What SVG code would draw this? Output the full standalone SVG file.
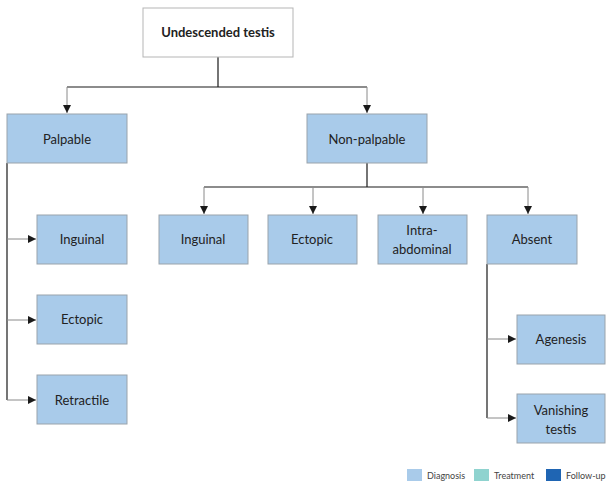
<svg xmlns="http://www.w3.org/2000/svg" width="606" height="482" viewBox="0 0 606 482">
<style>
.box{fill:#a9cbea;stroke:#9aa3ab;stroke-width:1}
.root{fill:#ffffff;stroke:#b5b5b5;stroke-width:1}
.t{font-family:Lato,"Open Sans","Liberation Sans",sans-serif;font-size:13px;fill:#222;text-anchor:middle}
.tb{font-weight:bold}
.main{stroke:#1a1a1a;stroke-width:1.2;fill:none}
.stub{stroke:#8a8a8a;stroke-width:1;fill:none}
.lg{font-family:Lato,"Open Sans","Liberation Sans",sans-serif;font-size:9px;fill:#444}
</style>
<defs>
<marker id="ah" markerWidth="8" markerHeight="8" refX="8" refY="4" orient="auto" markerUnits="userSpaceOnUse">
<path d="M0,0 L8,4 L0,8 Z" fill="#1a1a1a"/>
</marker>
</defs>
<g id="connectors">
<path class="main" d="M218,57 V87 M67,87 H367"/>
<path class="stub" d="M67,87 V113" marker-end="url(#ah)"/>
<path class="stub" d="M367,87 V113" marker-end="url(#ah)"/>
<path class="main" d="M7,163 V400"/>
<path class="stub" d="M7,239 H36" marker-end="url(#ah)"/>
<path class="stub" d="M7,320 H36" marker-end="url(#ah)"/>
<path class="stub" d="M7,400 H36" marker-end="url(#ah)"/>
<path class="main" d="M367,163 V187 M204,187 H528"/>
<path class="stub" d="M204,187 V214" marker-end="url(#ah)"/>
<path class="stub" d="M313,187 V214" marker-end="url(#ah)"/>
<path class="stub" d="M423,187 V214" marker-end="url(#ah)"/>
<path class="stub" d="M528,187 V214" marker-end="url(#ah)"/>
<path class="main" d="M487,264 V418"/>
<path class="stub" d="M487,339 H516" marker-end="url(#ah)"/>
<path class="stub" d="M487,418 H516" marker-end="url(#ah)"/>
</g>
<g id="root"><rect class="root" x="143" y="8" width="150" height="49"/><text class="t tb" x="218" y="37">Undescended testis</text></g>
<g id="palpable"><rect class="box" x="7" y="114" width="120" height="49"/><text class="t" x="67" y="144">Palpable</text></g>
<g id="nonpalpable"><rect class="box" x="307" y="114" width="120" height="49"/><text class="t" x="367" y="144">Non-palpable</text></g>
<g id="p-inguinal"><rect class="box" x="37" y="215" width="90" height="49"/><text class="t" x="82" y="244">Inguinal</text></g>
<g id="p-ectopic"><rect class="box" x="37" y="295" width="90" height="49"/><text class="t" x="82" y="324">Ectopic</text></g>
<g id="p-retractile"><rect class="box" x="37" y="375" width="90" height="49"/><text class="t" x="82" y="405">Retractile</text></g>
<g id="n-inguinal"><rect class="box" x="159" y="215" width="89" height="49"/><text class="t" x="203" y="244">Inguinal</text></g>
<g id="n-ectopic"><rect class="box" x="268" y="215" width="89" height="49"/><text class="t" x="312" y="244">Ectopic</text></g>
<g id="n-intra"><rect class="box" x="378" y="215" width="89" height="49"/><text class="t" x="422" y="235">Intra-</text><text class="t" x="422" y="254">abdominal</text></g>
<g id="n-absent"><rect class="box" x="487" y="215" width="90" height="49"/><text class="t" x="532" y="244">Absent</text></g>
<g id="agenesis"><rect class="box" x="517" y="315" width="88" height="49"/><text class="t" x="561" y="344">Agenesis</text></g>
<g id="vanishing"><rect class="box" x="517" y="394" width="88" height="49"/><text class="t" x="561" y="415">Vanishing</text><text class="t" x="561" y="434">testis</text></g>
<g id="legend">
<rect x="407" y="469" width="15" height="12" fill="#a9cbea"/><text class="lg" x="427" y="479">Diagnosis</text>
<rect x="474" y="469" width="15" height="12" fill="#8fd3cf"/><text class="lg" x="494" y="479">Treatment</text>
<rect x="546" y="469" width="15" height="12" fill="#1f65b3"/><text class="lg" x="566" y="479">Follow-up</text>
</g>
</svg>
